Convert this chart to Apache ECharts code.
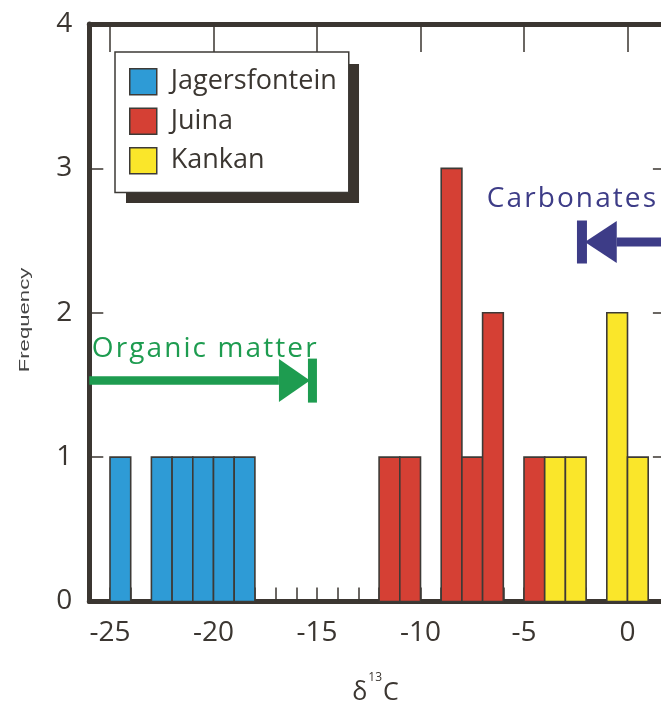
<!DOCTYPE html>
<html><head><meta charset="utf-8">
<script src="https://cdn.jsdelivr.net/npm/echarts@6/dist/echarts.min.js"></script>
<style>html,body{margin:0;padding:0;background:#fff;overflow:hidden}#c{width:661px;height:704px}</style>
</head><body><div id="c"></div>
<script>
// ---- data ----
const seriesNames = ['Jagersfontein', 'Juina', 'Kankan'];
const seriesColors = ['#2e9bd6', '#d54034', '#fae62a'];
const jagersBins = [-25, -23, -22, -21, -20, -19];
const jagersCounts = [1, 1, 1, 1, 1, 1];
const juinaBins = [-12, -11, -9, -8, -7, -5];
const juinaCounts = [1, 1, 3, 1, 2, 1];
const kankanBins = [-4, -3, -1, 0];
const kankanCounts = [1, 1, 2, 1];
const xTickLabels = [-25, -20, -15, -10, -5, 0];
const binWidth = 1;
// annotation anchors (data units)
const organicArrow = { y: 1.53, startX: -26, headBaseX: -16.84, tipX: -15.34, barX: -15.22, textX: -25.88, textY: 1.707 };
const carbArrow = { y: 2.49, barX: -2.2, tipX: -2.06, headBaseX: -0.52, endX: 2, textX: -6.80, textY: 2.746 };

const ink = '#3b3631';
const font = '"Open Sans", "Noto Sans", sans-serif';

const chart = echarts.init(document.getElementById('c'), null, { renderer: 'canvas' });

function renderBar(params, api) {
  const x0 = api.value(0), h = api.value(1);
  const p0 = api.coord([x0, h]);
  const p1 = api.coord([x0 + binWidth, 0]);
  return {
    type: 'rect',
    shape: { x: p0[0], y: p0[1], width: p1[0] - p0[0], height: p1[1] - p0[1] },
    style: { fill: api.visual('color'), stroke: '#3d3a36', lineWidth: 1.6 }
  };
}
const binsList = [jagersBins, juinaBins, kankanBins];
const countsList = [jagersCounts, juinaCounts, kankanCounts];
const series = seriesNames.map((name, i) => ({
  type: 'custom', name,
  data: binsList[i].map((b, j) => [b, countsList[i][j]]),
  encode: { x: 0, y: 1 },
  renderItem: renderBar,
  itemStyle: { color: seriesColors[i] },
  z: 3
}));

const axisLineStyle = { color: ink, width: 5 };
const legendCommon = {
  orient: 'vertical',
  padding: [16, 12, 18, 14],
  itemWidth: 27, itemHeight: 26, itemGap: 12,
  icon: 'rect', selectedMode: false
};
const option = {
  animation: false,
  backgroundColor: '#fff',
  grid: { left: 89.3, width: 579.6, top: 24, height: 577.5, containLabel: false, outerBoundsMode: 'none' },
  legend: [
    Object.assign({}, legendCommon, {
      left: 126, top: 64, z: 8,
      backgroundColor: '#3a342e', borderWidth: 0,
      textStyle: { fontSize: 27, fontFamily: font, color: 'rgba(0,0,0,0)', lineHeight: 26, padding: [0, 0, 0, 9] },
      data: seriesNames.map(n => ({ name: n, itemStyle: { color: 'rgba(0,0,0,0)', borderWidth: 0 } }))
    }),
    Object.assign({}, legendCommon, {
      left: 115, top: 52, z: 10,
      backgroundColor: '#fff', borderColor: '#3d3a36', borderWidth: 1.5,
      textStyle: { fontSize: 27, fontFamily: font, color: ink, lineHeight: 26, padding: [0, 0, 0, 9] },
      data: seriesNames.map((n, i) => ({ name: n, itemStyle: { color: seriesColors[i], borderColor: '#3d3a36', borderWidth: 1.5 } }))
    })
  ],
  xAxis: [{
    type: 'value', position: 'bottom', min: -26, max: 2, interval: 1,
    axisLine: { show: true, onZero: false, lineStyle: axisLineStyle },
    axisTick: { show: true, inside: true, length: 14, lineStyle: { color: ink, width: 1.5 } },
    axisLabel: { fontSize: 28, fontFamily: font, color: ink, margin: 18,
      formatter: v => xTickLabels.includes(v) ? String(v) : '' },
    splitLine: { show: false },
    name: '{d|δ}{s|13}{c|C}', nameLocation: 'middle', nameGap: 70,
    nameTextStyle: {
      padding: [0, 7, 0, 0],
      rich: {
        d: { fontSize: 25, fontFamily: font, color: ink, verticalAlign: 'bottom', lineHeight: 34 },
        s: { fontSize: 12, fontFamily: font, color: ink, verticalAlign: 'top', lineHeight: 12, padding: [0, 1, 0, 1] },
        c: { fontSize: 25, fontFamily: font, color: ink, verticalAlign: 'bottom', lineHeight: 34 }
      }
    }
  }, {
    type: 'value', position: 'top', min: -26, max: 2, interval: 1,
    axisLine: { show: true, onZero: false, lineStyle: axisLineStyle },
    axisTick: { show: true, inside: true, length: 28, customValues: xTickLabels, lineStyle: { color: ink, width: 1.5 } },
    axisLabel: { show: false },
    splitLine: { show: false }
  }],
  yAxis: [{
    type: 'value', position: 'left', min: 0, max: 4, interval: 1,
    axisLine: { show: true, onZero: false, lineStyle: axisLineStyle },
    axisTick: { show: true, inside: true, length: 14, lineStyle: { color: ink, width: 1.5 } },
    axisLabel: { fontSize: 28, fontFamily: font, color: ink, margin: 17 },
    splitLine: { show: false }
  }, {
    type: 'value', position: 'right', min: 0, max: 4, interval: 1,
    axisLine: { show: true, onZero: false, lineStyle: axisLineStyle },
    axisTick: { show: true, inside: true, length: 16, lineStyle: { color: ink, width: 1.5 } },
    axisLabel: { show: false },
    splitLine: { show: false }
  }],
  series
};
chart.setOption(option);

// ---- annotations ----
const px = (x, y) => chart.convertToPixel({ xAxisIndex: 0, yAxisIndex: 0 }, [x, y]);
const mctx = document.createElement('canvas').getContext('2d');
function spacedText(str, x, yBase, size, spacing, color) {
  const f = size + 'px "Open Sans"';
  mctx.font = f;
  let cx = x; const out = [];
  for (const ch of str) {
    if (ch !== ' ') out.push({ type: 'text', x: cx, y: yBase - 0.21 * size, z: 20,
      style: { text: ch, font: f, fill: color, align: 'left', verticalAlign: 'middle' } });
    cx += mctx.measureText(ch).width + spacing;
  }
  return out;
}
function arrowGraphics(a, dir, color, thick, halfHead, barW, barHalf) {
  const y = px(0, a.y)[1];
  const tip = px(a.tipX, 0)[0], base = px(a.headBaseX, 0)[0], bar = px(a.barX, 0)[0];
  const lineEnd = px(dir > 0 ? a.startX : a.endX, 0)[0];
  const els = [];
  els.push({ type: 'rect', z: 20, shape: { x: Math.min(lineEnd, base), y: y - thick / 2, width: Math.abs(base - lineEnd), height: thick }, style: { fill: color } });
  els.push({ type: 'polygon', z: 20, shape: { points: [[base, y - halfHead], [tip, y], [base, y + halfHead]] }, style: { fill: color } });
  els.push({ type: 'rect', z: 20, shape: { x: bar - barW / 2, y: y - barHalf, width: barW, height: barHalf * 2 }, style: { fill: color } });
  return els;
}
const green = '#1e9c50', navy = '#3d3c87';
const graphics = [];
const op = px(organicArrow.textX, organicArrow.textY);
graphics.push(...spacedText('Organic matter', op[0], op[1], 28, 2.1, green));
const cp = px(carbArrow.textX, carbArrow.textY);
graphics.push(...spacedText('Carbonates', cp[0], cp[1], 28, 2.1, navy));
graphics.push(...arrowGraphics(organicArrow, 1, green, 8.5, 21.5, 9, 22));
graphics.push(...arrowGraphics(carbArrow, -1, navy, 9, 21, 10, 21.5));
graphics.push({ type: 'text', x: 25, y: 320, rotation: Math.PI / 2, scaleX: 1.58, z: 20,
  style: { text: 'Frequency', font: '14px "Liberation Sans"', fill: '#444', align: 'center', verticalAlign: 'middle' } });
chart.setOption({ graphic: graphics });
</script>
</body></html>
